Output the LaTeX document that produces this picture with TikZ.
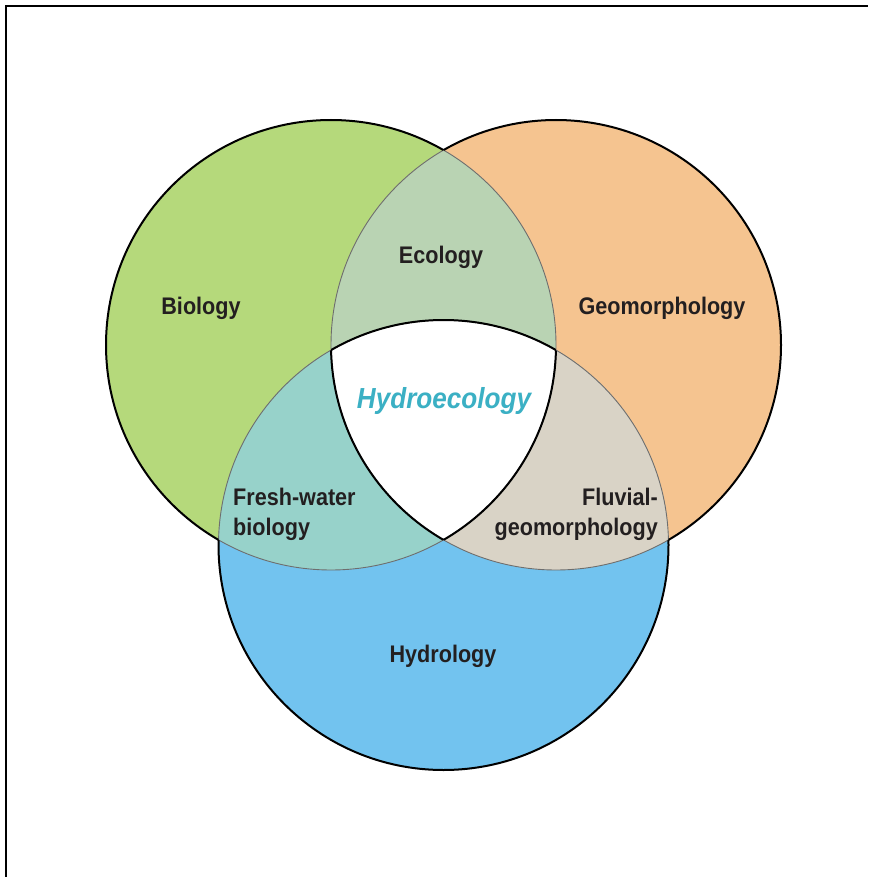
\documentclass[tikz,border=0pt]{standalone}
\usepackage{fontspec}
\setmainfont{Liberation Sans}[FakeStretch=0.9]
\definecolor{biogreen}{HTML}{B5D97B}
\definecolor{geoorange}{HTML}{F5C490}
\definecolor{hydroblue}{HTML}{72C3EF}
\definecolor{ecolcol}{HTML}{B9D3B3}
\definecolor{freshcol}{HTML}{97D2CA}
\definecolor{fluvcol}{HTML}{D9D3C6}
\definecolor{tealtext}{HTML}{3BB0C4}
\definecolor{darktext}{HTML}{231F20}
\definecolor{innergray}{HTML}{6E6E6E}
\tikzset{
  lab/.style={font=\bfseries\fontsize{24}{30}\selectfont, text=darktext, inner sep=0pt},
  outerline/.style={draw=black, line width=2pt},
  innerline/.style={draw=innergray, line width=0.9pt},
  frameline/.style={draw=black, line width=2pt}
}
\begin{document}
\begin{tikzpicture}[x=1pt,y=-1pt]
\useasboundingbox (0,0) rectangle (868,877);
\fill[white] (0,0) rectangle (868,877);
\draw[frameline] (6,877) -- (6,6) -- (868,6);
% base fills
\fill[biogreen] (331,345) circle[radius=225];
\fill[geoorange] (556,345) circle[radius=225];
\fill[hydroblue] (443.5,545) circle[radius=225];
% pairwise intersections
\begin{scope}
  \clip (331,345) circle[radius=225];
  \fill[ecolcol] (556,345) circle[radius=225];
\end{scope}
\begin{scope}
  \clip (331,345) circle[radius=225];
  \fill[freshcol] (443.5,545) circle[radius=225];
\end{scope}
\begin{scope}
  \clip (556,345) circle[radius=225];
  \fill[fluvcol] (443.5,545) circle[radius=225];
\end{scope}
\begin{scope}
  \clip (331,345) circle[radius=225];
  \clip (556,345) circle[radius=225];
  \fill[white] (443.5,545) circle[radius=225];
\end{scope}
% inner gray arcs
\begin{scope}
  \clip (556,345) circle[radius=225];
  \draw[innerline] (331,345) circle[radius=225];
  \draw[innerline] (443.5,545) circle[radius=225];
\end{scope}
\begin{scope}
  \clip (331,345) circle[radius=225];
  \draw[innerline] (556,345) circle[radius=225];
  \draw[innerline] (443.5,545) circle[radius=225];
\end{scope}
\begin{scope}
  \clip (443.5,545) circle[radius=225];
  \draw[innerline] (331,345) circle[radius=225];
  \draw[innerline] (556,345) circle[radius=225];
\end{scope}
% hydroecology black boundary
\begin{scope}
  \clip (556,345) circle[radius=225];
  \clip (443.5,545) circle[radius=225];
  \draw[outerline] (331,345) circle[radius=225];
\end{scope}
\begin{scope}
  \clip (331,345) circle[radius=225];
  \clip (443.5,545) circle[radius=225];
  \draw[outerline] (556,345) circle[radius=225];
\end{scope}
\begin{scope}
  \clip (331,345) circle[radius=225];
  \clip (556,345) circle[radius=225];
  \draw[outerline] (443.5,545) circle[radius=225];
\end{scope}
% outer black boundary
\begin{scope}[even odd rule]
  \clip (-20,-20) rectangle (890,900) (556,345) circle[radius=225];
  \clip (-20,-20) rectangle (890,900) (443.5,545) circle[radius=225];
  \draw[outerline] (331,345) circle[radius=225];
\end{scope}
\begin{scope}[even odd rule]
  \clip (-20,-20) rectangle (890,900) (331,345) circle[radius=225];
  \clip (-20,-20) rectangle (890,900) (443.5,545) circle[radius=225];
  \draw[outerline] (556,345) circle[radius=225];
\end{scope}
\begin{scope}[even odd rule]
  \clip (-20,-20) rectangle (890,900) (331,345) circle[radius=225];
  \clip (-20,-20) rectangle (890,900) (556,345) circle[radius=225];
  \draw[outerline] (443.5,545) circle[radius=225];
\end{scope}
% labels
\node[lab] (biology) at (201,308) {Biology};
\node[lab] (geomorph) at (662,308) {Geomorphology};
\node[lab] (ecology) at (441,257) {Ecology};
\node[lab] (hydrology) at (443,656) {Hydrology};
\node[lab, anchor=west, align=left] (fresh) at (233,514) {Fresh-water\\biology};
\node[lab, anchor=east, align=right] (fluvial) at (658,514) {Fluvial-\\geomorphology};
\node[inner sep=0pt, font=\bfseries\itshape\fontsize{29}{33}\selectfont, text=tealtext] (hydroeco) at (444,401) {Hydroecology};
\end{tikzpicture}
\end{document}
